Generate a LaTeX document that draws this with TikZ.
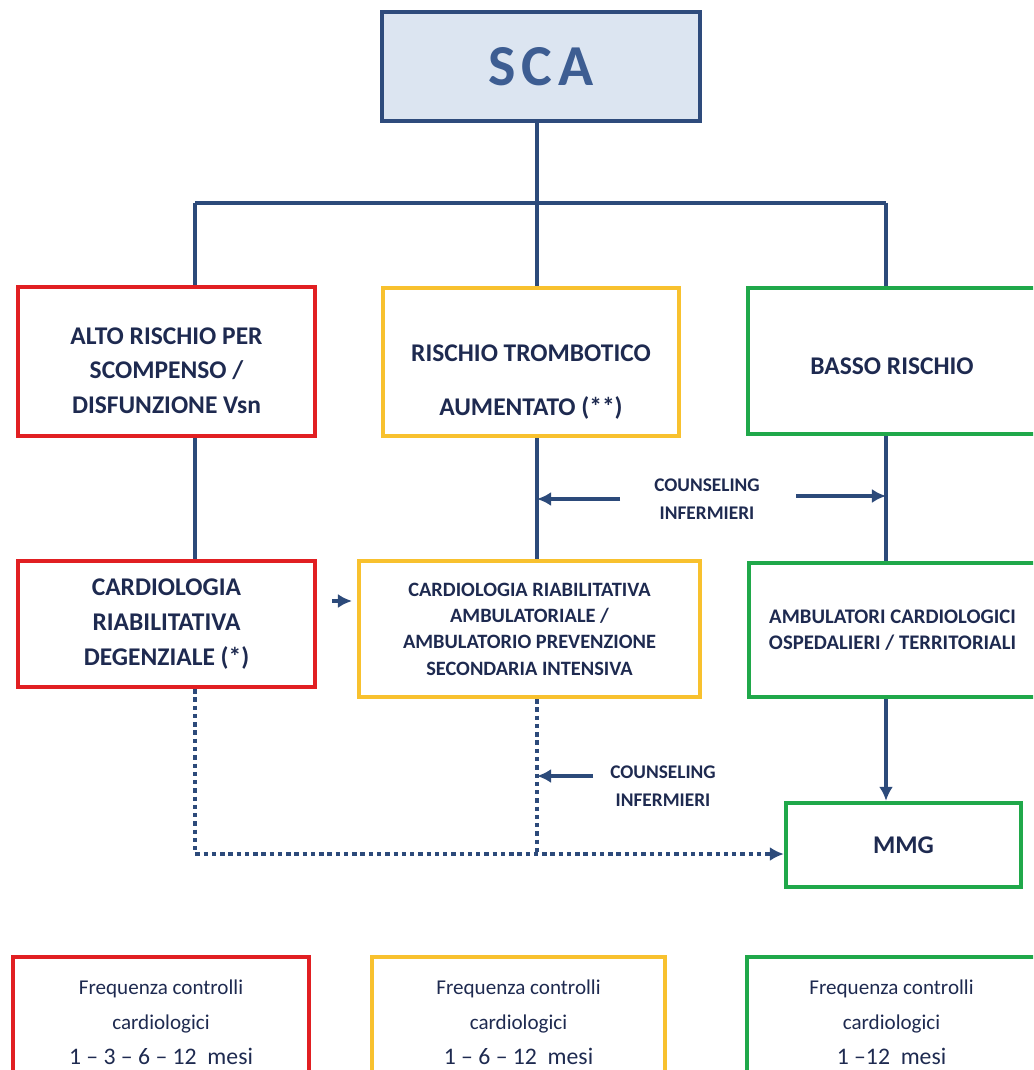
\documentclass[tikz,border=0pt]{standalone}
\usepackage{fontspec}
\setmainfont{Carlito}
\usetikzlibrary{positioning}
\usetikzlibrary{arrows.meta}
\definecolor{scafill}{HTML}{DCE5F1}
\definecolor{scaline}{HTML}{2E4B7C}
\definecolor{scatext}{HTML}{3D5D92}
\definecolor{navy}{HTML}{2C4A7A}
\definecolor{ink}{HTML}{1E2A50}
\definecolor{rosso}{HTML}{E11F22}
\definecolor{giallo}{HTML}{F8C12E}
\definecolor{verde}{HTML}{20A84A}
\newcommand{\topgap}[1]{\rule{0pt}{#1}}

\begin{document}
\begin{tikzpicture}[x=0.02cm, y=-0.02cm,
        every node/.style={text=ink, align=center, inner sep=0pt},
        box/.style={draw=#1, line width=2.5pt, font=\bfseries\fontsize{14.5}{19.8}\selectfont},
        link/.style={draw=navy, line width=1.9pt},
        dotlink/.style={draw=navy, line width=2.5pt, dash pattern=on 2.5pt off 2.2pt},
        tip/.style={-{Latex[length=8pt,width=8pt]}},
        counsel/.style={font=\bfseries\fontsize{11}{16}\selectfont},
        freq/.style={box=#1, font=\fontsize{12}{19.8}\selectfont, minimum height=2.6cm}]
    \useasboundingbox (0,0) rectangle (1033,1070);
    \clip (0,0) rectangle (1033,1070);

    \node[draw=scaline, fill=scafill, line width=2.4pt, minimum width=6.36cm, minimum height=2.18cm,
          text=scatext, font=\bfseries\fontsize{33}{36}\selectfont\addfontfeature{LetterSpace=10}] (sca) at (541,66.5) {SCA};

    \node[box=rosso, minimum width=5.94cm, minimum height=2.98cm] (alto) at (166.5,361.5)
        {\topgap{20pt}ALTO RISCHIO PER\\SCOMPENSO /\\DISFUNZIONE Vsn};
    \node[box=giallo, minimum width=5.92cm, minimum height=2.96cm] (trombo) at (531,362)
        {\topgap{32pt}RISCHIO TROMBOTICO\\[11pt]AUMENTATO (**)};
    \node[box=verde, minimum width=5.76cm, minimum height=2.92cm] (basso) at (892,361)
        {\topgap{15pt}BASSO RISCHIO};

    \node[box=rosso, minimum width=5.94cm, minimum height=2.52cm] (degenz) at (166.5,624)
        {CARDIOLOGIA\\RIABILITATIVA\\DEGENZIALE (*)};
    \node[box=giallo, minimum width=6.82cm, minimum height=2.72cm,
          font=\bfseries\fontsize{11.6}{15}\selectfont] (ambul) at (529.5,629)
        {CARDIOLOGIA RIABILITATIVA\\AMBULATORIALE /\\AMBULATORIO PREVENZIONE\\SECONDARIA INTENSIVA};
    \node[box=verde, minimum width=5.74cm, minimum height=2.68cm,
          font=\bfseries\fontsize{11.8}{14.5}\selectfont] (ospedal) at (892.5,630)
        {AMBULATORI CARDIOLOGICI\\OSPEDALIERI / TERRITORIALI};
    \node[box=verde, minimum width=4.7cm, minimum height=1.68cm] (mmg) at (903.5,845) {MMG};

    \node[counsel] (cons1) at (707,499) {COUNSELING\\INFERMIERI};
    \node[counsel] (cons2) at (663,786) {COUNSELING\\INFERMIERI};

    \node[freq=rosso, minimum width=5.92cm] (freqalto) at (161,1022)
        {Frequenza controlli\\cardiologici\\{\fontsize{13.5}{19.8}\selectfont 1 – 3 – 6 – 12~~mesi}};
    \node[freq=giallo, minimum width=5.86cm] (freqtrombo) at (518.5,1022)
        {Frequenza controlli\\cardiologici\\{\fontsize{13.5}{19.8}\selectfont 1 – 6 – 12~~mesi}};
    \node[freq=verde, minimum width=5.78cm] (freqbasso) at (891.5,1022)
        {Frequenza controlli\\cardiologici\\{\fontsize{13.5}{19.8}\selectfont 1 –12~~mesi}};

    \coordinate (bus) at (537,203);
    \coordinate (busL) at (195,203);
    \coordinate (busR) at (886,203);
    \coordinate (dotc) at (195,854);
    \coordinate (c1a) at (620,499);
    \coordinate (c1b) at (796,496);
    \coordinate (c2a) at (593,776);
    \coordinate (sm1) at (332,601);
    \coordinate (sm2) at (352,601);

    \draw[link] (sca.south -| bus) -- (bus);
    \draw[link] (busL) -- (busR);
    \draw[link] (busL) -- (busL |- alto.north);
    \draw[link] (bus) -- (bus |- trombo.north);
    \draw[link] (busR) -- (busR |- basso.north);
    \draw[link] (busL |- alto.south) -- (busL |- degenz.north);
    \draw[link] (bus |- trombo.south) -- (bus |- ambul.north);
    \draw[link] (busR |- basso.south) -- (busR |- ospedal.north);
    \draw[link, tip] (busR |- ospedal.south) -- (busR |- mmg.north);

    \draw[link, tip] (c1a) -- (c1a -| bus);
    \draw[link, tip] (c1b) -- (c1b -| busR);
    \draw[link, tip] (c2a) -- (c2a -| bus);
    \draw[link, tip] (sm1) -- (sm2);

    \draw[dotlink, tip] (busL |- degenz.south) -- (dotc) -- (dotc -| mmg.west);
    \draw[dotlink] (bus |- ambul.south) -- (bus |- dotc);
\end{tikzpicture}
\end{document}
